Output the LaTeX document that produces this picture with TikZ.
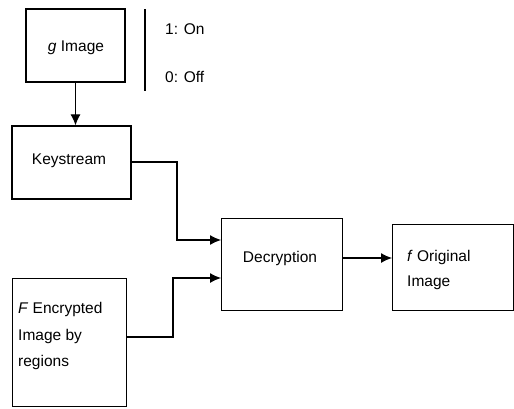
\documentclass[tikz,border=0pt]{standalone}
\usepackage{fontspec}
\setmainfont{Liberation Sans}
\usetikzlibrary{arrows.meta}
\begin{document}
\begin{tikzpicture}[x=1pt,y=-1pt,
  box/.style={draw,line width=1.2pt,inner sep=0pt},
  lbl/.style={font=\fontsize{15.5}{18}\selectfont,inner sep=0pt},
  wire/.style={line width=1.1pt},
  arr/.style={wire,-{Latex[length=11pt,width=10pt]}}]
\useasboundingbox (0,0) rectangle (514,408);
% boxes
\node[box,minimum width=99pt,minimum height=73pt] (g) at (75.5,45.5) {};
\node[box,minimum width=119pt,minimum height=73pt] (ks) at (71.5,162.5) {};
\node[box,minimum width=114pt,minimum height=128pt,anchor=north west] (F) at (12,278) {};
\node[box,minimum width=121pt,minimum height=92pt,anchor=north west] (dec) at (221,218) {};
\node[box,minimum width=121pt,minimum height=86pt,anchor=north west] (orig) at (392,224) {};
% labels
\node[lbl] at (76,48) {\textit{g} Image};
\node[lbl] at (69,161) {Keystream};
\node[lbl] at (280,258) {Decryption};
\node[lbl,anchor=west] at (407,257) {\textit{f} Original};
\node[lbl,anchor=west] at (407,283) {Image};
\node[lbl,anchor=west] at (18,309) {\textit{F} Encrypted};
\node[lbl,anchor=west] at (18,336) {Image by};
\node[lbl,anchor=west] at (18,362) {regions};
% on/off legend
\coordinate (bt) at (145,9);
\coordinate (bb) at (145,91);
\draw[wire] (bt) -- (bb);
\node[lbl,anchor=west] at (165,29) {1: On};
\node[lbl,anchor=west] at (165,77) {0: Off};
% connectors
\coordinate (in1) at (221,240);
\coordinate (in2) at (221,278);
\coordinate (k1) at (177,162);
\coordinate (f1) at (173,337);
\draw[arr] (g.south) -- (g.south |- ks.north);
\draw[arr] (ks.east |- k1) -- (k1) |- (in1);
\draw[arr] (F.east |- f1) -- (f1) |- (in2);
\draw[arr] (dec.east |- 0,258) -- (orig.west |- 0,258);
\end{tikzpicture}
\end{document}
